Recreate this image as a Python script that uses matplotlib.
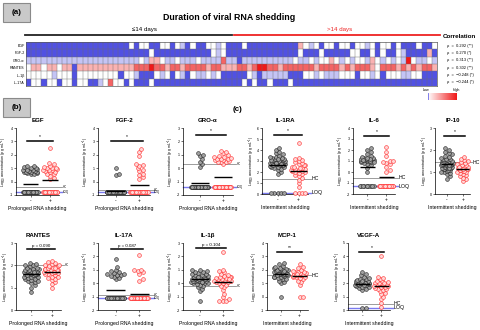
import numpy as np
import matplotlib
matplotlib.use("Agg")
import matplotlib.pyplot as plt
from matplotlib.colors import LinearSegmentedColormap
from matplotlib.lines import Line2D
from matplotlib.patches import Rectangle

plt.rcParams["font.family"] = ["Liberation Sans", "DejaVu Sans"]
plt.rcParams["mathtext.fontset"] = "custom"
plt.rcParams["mathtext.rm"] = "Liberation Sans"
plt.rcParams["mathtext.it"] = "Liberation Sans:italic"

# ---------------- heatmap data (levels: -3 low ... +3 high) ----------------
cytokines = ["EGF", "FGF-2", "GRO-\u03b1", "RANTES", "IL-1\u03b2", "IL-17A"]
correlations = ["\u03c1  =  0.292 (**)", "\u03c1  =  0.270 (*)", "\u03c1  =  0.313 (**)",
                "\u03c1  =  0.302 (**)", "\u03c1  =  \u22120.248 (*)", "\u03c1  =  \u22120.244 (*)"]

egf_row = [-3, -3, -3, -3, -3, -3, -3, -3, -3, -3, -3, -3, -3, -3, -3, -3, -3, -3, -3, -3,
           0, -3, 0, 0, -3, -3, 0, 0, -3, 0, -1, -3, 0, -3, -3, 0, 0, -1, 0, -3,
           -3, -3, 0, -3, -3, -3, -3, -3, -3, -3, -3, -3, -3, 1, 0, -1, 0, -3, 0, 0,
           -3, 0, 0, -3, 0, 0, -1, 0, -3, 0, 0, -3, 0, -3, -3, -3, 0, -3, -3, 0]
fgf2_row = [-3, -3, -3, -3, -3, -3, -3, -3, -3, -3, -3, -3, -3, -3, -3, -3, -3, -3, -3, -3,
            -3, -3, -3, -3, 0, -3, -3, -3, -3, -3, -3, -3, -3, -3, -3, -3, 0, -1, 0, -3,
            -3, -3, -3, -3, -3, -3, -3, -3, -3, -3, -3, -3, -3, 0, -3, -3, -3, 0, -3, -3,
            -3, -3, -3, 0, 0, -3, -3, 0, -3, 0, -3, -3, 0, -1, -3, -3, -3, -3, 1, -3]
groa_row = [-1, -1, -1, -1, -1, -1, -1, -1, -1, -1, -1, -1, -1, -1, -1, -1, -1, -1, -1, -1,
            -1, -1, 0, -1, 1, 1, 0, -1, -1, 0, -1, -1, -1, 0, -1, -1, -1, -1, 2, -1,
            -1, -3, -1, -1, -1, -1, -1, -1, -1, -1, -1, -1, 0, -1, -1, 0, -1, 0, 0, 1,
            0, -1, 0, -1, 0, 0, -1, 1, 0, -1, 0, -1, 0, -1, 3, 0, -1, -1, 0, -1]
rantes_row = [0, 1, 1, 0, 1, 1, 0, 1, 1, -3, 1, 1, 1, 1, 1, 1, 1, 1, 1, 1,
              1, 2, 2, 2, 3, 2, 2, 1, 2, 2, 1, 2, 2, 2, 2, 1, 2, 2, 1, 1,
              1, 2, 2, 1, 2, 3, 3, 2, 2, 1, 2, 2, 2, 2, 2, 2, 1, 2, 2, 2,
              2, 1, 2, 1, 2, 2, 2, 1, 0, 2, 2, 2, 1, 2, 1, 2, 1, 2, 2, 1]
il1b_row = [0, 0, 0, 0, 0, -1, 0, 0, 0, -3, 0, 0, 0, 0, 0, 0, 0, 0, -3, 0,
            0, -1, -3, -3, -3, 0, -1, 0, -3, 0, -1, -3, 0, -1, -1, 0, -1, 0, -3, -3,
            -3, -3, -3, 0, -1, -3, -1, -1, -1, -1, -1, -3, -3, -3, 0, 0, -1, 0, -1, -1,
            -1, 0, 0, 0, -3, 0, 0, -1, 0, -3, 0, 0, 0, -1, -1, 0, 0, -3, -3, -3]
il17a_row = [-3, 0, 0, -3, 0, 0, -3, 0, 0, -3, 0, 0, -3, -3, -1, 0, 2, 0, 0, -3,
             0, -3, -3, -3, 0, -3, -3, -3, -3, -3, -3, -3, -3, -3, -3, -3, -3, -3, -3, -3,
             -3, -3, 0, -3, 0, -3, -3, 0, -3, -3, -3, 0, -3, -3, -3, -3, -3, -3, -3, -3,
             -3, -3, -3, -3, -3, -3, -3, -3, -3, -3, -3, -3, -3, -3, -3, -3, -3, -3, -3, -3]

# ---------------- scatter data ----------------
LOQ_EGF, LOQ_FGF, LOQ_GRO, LOQ_17A = -0.75, -0.8, -1.4, -1.1
egf_neg = [LOQ_EGF]*34 + [0.55, 0.6, 0.62, 0.65, 0.7, 0.7, 0.72, 0.75, 0.78, 0.8, 0.85, 0.88, 0.9,
                          0.95, 1.0, 1.05, 1.1, 1.15, 1.2]
egf_pos = [LOQ_EGF]*18 + [0.2, 0.3, 0.45, 0.55, 0.6, 0.7, 0.75, 0.8, 0.85, 0.9, 0.9, 0.95, 1.0, 1.0,
                          1.05, 1.1, 1.2, 1.3, 1.4, 2.5]
fgf2_neg = [LOQ_FGF]*48 + [0.5, 0.6, 1.05]
fgf2_pos = [LOQ_FGF]*34 + [0.2, 0.35, 0.5, 0.6, 0.8, 0.9, 1.0, 1.2, 1.25, 1.35, 1.9, 2.2, 2.4]
groa_neg = [LOQ_GRO]*40 + [0.1, 0.3, 0.5, 0.7, 0.9, 1.0, 1.1]
groa_pos = [LOQ_GRO]*35 + [0.3, 0.45, 0.5, 0.5, 0.55, 0.6, 0.6, 0.65, 0.7, 0.7, 0.75, 0.8, 0.85,
                           0.9, 1.0, 1.1, 1.2, 1.3]
rantes_neg = [0.8, 1.0, 1.1, 1.2, 1.25, 1.3, 1.35, 1.4, 1.4, 1.45, 1.5, 1.5, 1.5, 1.55, 1.55, 1.6,
              1.6, 1.6, 1.6, 1.65, 1.65, 1.65, 1.7, 1.7, 1.7, 1.7, 1.75, 1.75, 1.75, 1.8, 1.8,
              1.8, 1.85, 1.85, 1.9, 1.9, 1.95, 2.0, 2.0, 2.05, 2.1, 1.3, 1.55, 1.7]
rantes_pos = [1.0, 1.15, 1.25, 1.35, 1.4, 1.45, 1.5, 1.55, 1.6, 1.6, 1.65, 1.65, 1.7, 1.7, 1.75,
              1.75, 1.8, 1.8, 1.8, 1.85, 1.85, 1.9, 1.9, 1.95, 1.95, 2.0, 2.0, 2.05, 2.1, 2.15,
              2.2, 1.5, 1.7, 1.9]
il17a_neg = [LOQ_17A]*30 + [0.3, 0.4, 0.5, 0.55, 0.6, 0.6, 0.65, 0.7, 0.75, 0.8, 0.9, 1.0, 1.2, 1.8]
il17a_pos = [LOQ_17A]*40 + [0.2, 0.3, 0.7, 0.8, 0.9, 0.95, 1.0, 2.1]
il1b_neg = [-1.3, -0.6, -0.4, -0.3, -0.2, -0.1, -0.05, 0.0, 0.0, 0.05, 0.1, 0.1, 0.15, 0.15, 0.2,
            0.2, 0.2, 0.25, 0.25, 0.3, 0.3, 0.3, 0.35, 0.35, 0.4, 0.4, 0.45, 0.45, 0.5, 0.5, 0.55,
            0.6, 0.6, 0.65, 0.7, 0.75, 0.8, 0.85, 0.9, 0.95, 1.0, 0.1, 0.3, 0.5]
il1b_pos = [-1.3, -1.3, -1.3, -1.2, -1.0, -0.8, -0.5, -0.3, -0.2, -0.1, 0.0, 0.0, 0.1, 0.1, 0.15,
            0.2, 0.2, 0.25, 0.3, 0.3, 0.35, 0.4, 0.4, 0.45, 0.5, 0.5, 0.55, 0.6, 0.7, 0.8, 0.9,
            1.0, 2.3, 0.2, 0.3]
LOQ_1RA, LOQ_IL6, LOQ_VEGF = 0.1, -1.3, 0.17
il1ra_neg = [LOQ_1RA]*5 + [1.8, 2.0, 2.2, 2.3, 2.4, 2.45, 2.5, 2.5, 2.55, 2.6, 2.6, 2.65, 2.7, 2.7,
                           2.75, 2.75, 2.8, 2.8, 2.8, 2.85, 2.85, 2.9, 2.9, 2.95, 2.95, 3.0, 3.0,
                           3.05, 3.1, 3.1, 3.15, 3.2, 3.2, 3.3, 3.3, 3.4, 3.5, 3.6, 3.7, 3.8, 4.0,
                           4.2, 2.6, 2.9, 3.0, 3.1, 2.8, 2.7, 3.2, 3.4]
il1ra_pos = [LOQ_1RA]*4 + [0.6, 1.0, 1.3, 1.5, 1.6, 1.7, 1.8, 1.9, 2.0, 2.0, 2.1, 2.1, 2.2, 2.2,
                           2.3, 2.3, 2.4, 2.4, 2.5, 2.5, 2.6, 2.6, 2.7, 2.8, 2.9, 3.0, 3.1, 3.2,
                           3.3, 4.6]
il6_neg = [LOQ_IL6]*10 + [0.0, 0.4, 0.6, 0.7, 0.8, 0.9, 0.95, 1.0, 1.0, 1.05, 1.1, 1.1, 1.15, 1.2,
                          1.2, 1.25, 1.3, 1.4, 1.5, 1.6, 1.8, 2.0, 2.2, 0.9, 1.0, 1.1, 1.2, 1.3]
il6_pos = [LOQ_IL6]*20 + [0.0, 0.2, 0.5, 0.7, 0.8, 0.9, 1.0, 1.0, 1.5, 1.8, 2.3]
ip10_neg = [0.7, 0.8, 0.9, 0.95, 1.0, 1.0, 1.05, 1.1, 1.1, 1.15, 1.15, 1.2, 1.2, 1.2, 1.25, 1.25,
            1.25, 1.3, 1.3, 1.3, 1.3, 1.35, 1.35, 1.35, 1.4, 1.4, 1.4, 1.4, 1.45, 1.45, 1.45, 1.5,
            1.5, 1.5, 1.55, 1.55, 1.6, 1.6, 1.65, 1.7, 1.75, 1.8, 1.85, 1.9, 2.0, 2.1, 1.2, 1.3,
            1.4, 1.35]
ip10_pos = [0.6, 0.7, 0.75, 0.8, 0.85, 0.9, 0.95, 1.0, 1.0, 1.05, 1.05, 1.1, 1.1, 1.15, 1.15, 1.2,
            1.2, 1.2, 1.25, 1.25, 1.3, 1.3, 1.35, 1.4, 1.45, 1.5, 1.55, 1.6, 1.7, 1.15, 1.25]
mcp1_neg = [0.0, 1.0, 1.1, 1.2, 1.3, 1.35, 1.4, 1.45, 1.5, 1.5, 1.55, 1.6, 1.6, 1.65, 1.65, 1.7,
            1.7, 1.7, 1.75, 1.75, 1.8, 1.8, 1.8, 1.85, 1.85, 1.9, 1.9, 1.95, 1.95, 2.0, 2.0, 2.05,
            2.1, 2.15, 2.2, 2.3, 2.4, 2.5, 1.7, 1.8, 1.9, 1.6]
mcp1_pos = [0.0, 0.0, 0.9, 1.1, 1.2, 1.3, 1.4, 1.45, 1.5, 1.5, 1.55, 1.6, 1.6, 1.65, 1.65, 1.7,
            1.7, 1.75, 1.75, 1.8, 1.8, 1.85, 1.9, 2.0, 2.1, 2.2, 2.4, 1.6, 1.7]
vegf_neg = [LOQ_VEGF]*2 + [1.5, 1.6, 1.65, 1.7, 1.75, 1.8, 1.85, 1.9, 1.9, 1.95, 1.95, 2.0, 2.0, 2.0,
                           2.05, 2.05, 2.1, 2.1, 2.1, 2.15, 2.15, 2.2, 2.2, 2.25, 2.3, 2.35, 2.4,
                           2.5, 2.6, 2.7, 2.8, 2.0, 2.1, 1.9, 2.2]
vegf_pos = [0.2, 0.5, 0.8, 1.0, 1.2, 1.3, 1.4, 1.5, 1.55, 1.6, 1.65, 1.7, 1.75, 1.8, 1.85, 1.9,
            1.9, 1.95, 2.0, 2.0, 2.05, 2.1, 2.15, 2.2, 2.3, 2.4, 2.5, 4.0, 1.8, 2.0]

W, H = 480, 330
fig = plt.figure(figsize=(W / 100, H / 100), dpi=100)
fig.patch.set_facecolor("white")


def box(x0, y0, x1, y1):
    return [x0 / W, 1 - y1 / H, (x1 - x0) / W, (y1 - y0) / H]


def ftext(x, y, s, **kw):
    fig.text(x / W, 1 - y / H, s, **kw)


def fline(x0, x1, y, **kw):
    fig.add_artist(Line2D([x0 / W, x1 / W], [1 - y / H] * 2, transform=fig.transFigure, **kw))


def label_box(x0, y0, x1, y1, s):
    fig.add_artist(Rectangle((x0 / W, 1 - y1 / H), (x1 - x0) / W, (y1 - y0) / H,
                             transform=fig.transFigure, facecolor="#c9c9c9",
                             edgecolor="#8a8a8a", lw=0.8))
    ftext((x0 + x1) / 2, (y0 + y1) / 2, s, ha="center", va="center", fontsize=5.8,
          fontweight="bold")


# ---------------- panel (a) ----------------
label_box(3, 3, 30, 22, "(a)")
ftext(229, 18, "Duration of viral RNA shedding", ha="center", va="center", fontsize=6.4,
      fontweight="bold")
ftext(145, 29, "\u226414 days", ha="center", va="center", fontsize=4.4)
ftext(340, 29, ">14 days", ha="center", va="center", fontsize=4.4, color="#ee2222")
fline(25, 232, 35, color="#222222", lw=1.3)
fline(234, 440, 35, color="#ee2222", lw=1.3)
ftext(443, 36, "Correlation", ha="left", va="center", fontsize=4.5, fontweight="bold")

heat = np.array([egf_row, fgf2_row, groa_row, rantes_row, il1b_row, il17a_row], dtype=float)
n_rows, n_cols = heat.shape
cmap = LinearSegmentedColormap.from_list("lowhigh", ["#5151e2", "#ffffff", "#f01818"])
axh = fig.add_axes(box(26, 42, 437, 86))
axh.imshow(heat, cmap=cmap, vmin=-3, vmax=3, aspect="auto", interpolation="nearest",
           extent=(0, n_cols, n_rows, 0))
for c in range(1, n_cols):
    axh.axvline(c, color="#6a6a6a", lw=0.3)
for r in range(1, n_rows):
    axh.axhline(r, color="#6a6a6a", lw=0.3)
axh.set_xlim(0, n_cols)
axh.set_ylim(n_rows, 0)
axh.set_xticks([])
axh.set_yticks(np.arange(n_rows) + 0.5)
axh.set_yticklabels(cytokines, fontsize=2.6)
axh.tick_params(axis="y", length=0, pad=1)
for s in axh.spines.values():
    s.set_linewidth(0.5)
    s.set_color("#5a5a5a")
for i, txt in enumerate(correlations):
    ftext(447, 42 + (i + 0.5) * 44 / 6, txt, ha="left", va="center", fontsize=2.9)

# colour key
axc = fig.add_axes(box(428, 93, 456, 100))
axc.imshow(np.linspace(0, 3, 64)[None, :], aspect="auto", cmap=cmap, vmin=-3, vmax=3)
axc.axvline(0, color="#6a6ae8", lw=0.6)
axc.set_xticks([])
axc.set_yticks([])
for s in axc.spines.values():
    s.set_visible(False)
ftext(426, 90.5, "Low", ha="center", va="center", fontsize=2.6)
ftext(456, 90, "High", ha="center", va="center", fontsize=2.6)

# ---------------- scatter panels ----------------
label_box(3, 98, 30, 117, "(b)")
ftext(233, 110, "(c)", ha="left", va="center", fontsize=5.8, fontweight="bold")

YLAB = r"Log$_{10}$ concentration (pg mL$^{-1}$)"


def swarm_x(vals, center, px_w, px_h, xlim, ylim, d=3.3, maxw=0.38):
    vals = np.asarray(vals, dtype=float)
    sx = px_w / (xlim[1] - xlim[0])
    sy = px_h / (ylim[1] - ylim[0])
    lim = maxw * sx
    order = np.argsort(vals, kind="stable")
    placed = []
    xs = np.zeros(len(vals))
    overflow = 0
    for i in order:
        y = vals[i] * sy
        chosen = None
        for k in range(60):
            off = ((k + 1) // 2) * (d / 2) * (1 if k % 2 else -1)
            if abs(off) > lim:
                break
            if all((off - px) ** 2 + (y - py) ** 2 >= d * d * 0.8 for px, py in placed):
                chosen = off
                break
        if chosen is None:
            chosen = ((overflow * 0.618) % 1.0 * 2 - 1) * lim
            overflow += 1
        placed.append((chosen, y))
        xs[i] = center + chosen / sx
    return xs


def scatter_panel(rect, title, neg, pos, ylim, yticks, hc, loq, by, btxt, xlabel,
                  big_ref=False):
    x0, y0, x1, y1 = rect
    ax = fig.add_axes(box(x0, y0, x1, y1))
    xlim = (0.25, 2.45)
    ax.set_xlim(*xlim)
    ax.set_ylim(*ylim)
    pw, ph = x1 - x0, y1 - y0
    for vals, c, ec, fc in ((neg, 1, "#222222", "#a0a0a0"), (pos, 2, "#ff2a2a", "#ffd6d6")):
        xs = swarm_x(vals, c, pw, ph, xlim, ylim)
        ax.scatter(xs, vals, s=7.5, facecolors=fc, edgecolors=ec, linewidths=0.4, zorder=3,
                   clip_on=False)
        ax.hlines(np.mean(vals), c - 0.4, c + 0.4, color="black", lw=1.0, zorder=4)
    ref_fs = 3.8 if big_ref else 2.1
    if hc is not None:
        ax.plot([xlim[0], xlim[1] + 0.15], [hc, hc], color="#8c8c8c", lw=0.6, zorder=2,
                clip_on=False)
        ax.text(xlim[1] + 0.17, hc, "HC", fontsize=ref_fs, va="center", ha="left")
    if loq is not None:
        ax.plot([xlim[0], xlim[1] + 0.15], [loq, loq], color="#7a7af0", lw=1.0, zorder=2,
                clip_on=False)
        ax.text(xlim[1] + 0.17, loq, "LOQ", fontsize=ref_fs, va="center", ha="left")
    ax.plot([0.8, 2.15], [by, by], color="black", lw=1.1, zorder=4)
    ax.text(1.48, by + (ylim[1] - ylim[0]) * 0.02, btxt, ha="center", va="bottom",
            fontsize=3.2 if btxt.startswith("p") else 3.6)
    ax.set_xticks([1, 2])
    ax.set_xticklabels(["-", "+"], fontsize=3.4)
    ax.set_yticks(yticks)
    ax.set_yticklabels([str(t) for t in yticks], fontsize=2.6)
    ax.tick_params(length=1.3, width=0.4, pad=0.8)
    for side in ("top", "right"):
        ax.spines[side].set_visible(False)
    for side in ("left", "bottom"):
        ax.spines[side].set_linewidth(0.5)
    ax.set_title(title, fontsize=4.4, fontweight="bold", pad=4)
    ax.set_ylabel(YLAB, fontsize=2.6, labelpad=0.3)
    ax.set_xlabel(xlabel, fontsize=3.7, labelpad=2.5)
    return ax


PRS = "Prolonged RNA shedding"
INT = "Intermittent shedding"
scatter_panel((16, 128, 59, 195), "EGF", egf_neg, egf_pos, (-1, 4), [-1, 0, 1, 2, 3, 4],
              -0.4, LOQ_EGF, 3.05, "*", PRS)
scatter_panel((98, 128, 150, 195), "FGF-2", fgf2_neg, fgf2_pos, (-1, 4), [-1, 0, 1, 2, 3, 4],
              -0.6, LOQ_FGF, 3.05, "*", PRS)
scatter_panel((183, 128, 233, 195), "GRO-\u03b1", groa_neg, groa_pos, (-2, 3),
              [-2, -1, 0, 1, 2, 3], 0.3, LOQ_GRO, 2.5, "*", PRS)
scatter_panel((16, 243, 61, 310), "RANTES", rantes_neg, rantes_pos, (0, 3), [0, 1, 2, 3],
              2.0, None, 2.72, "p = 0.090", PRS)
scatter_panel((98, 243, 150, 310), "IL-17A", il17a_neg, il17a_pos, (-2, 3),
              [-2, -1, 0, 1, 2, 3], -0.9, LOQ_17A, 2.55, "p = 0.087", PRS)
scatter_panel((183, 243, 233, 310), "IL-1\u03b2", il1b_neg, il1b_pos, (-2, 3),
              [-2, -1, 0, 1, 2, 3], -0.2, None, 2.6, "p = 0.104", PRS)
scatter_panel((262, 128, 308, 194), "IL-1RA", il1ra_neg, il1ra_pos, (0, 6),
              [0, 1, 2, 3, 4, 5, 6], 1.4, LOQ_1RA, 5.4, "*", INT, big_ref=True)
scatter_panel((353, 128, 395, 194), "IL-6", il6_neg, il6_pos, (-2, 4),
              [-2, -1, 0, 1, 2, 3, 4], -0.5, LOQ_IL6, 3.3, "*", INT, big_ref=True)
scatter_panel((435, 128, 470, 194), "IP-10", ip10_neg, ip10_pos, (0, 3), [0, 1, 2, 3],
              1.45, None, 2.65, "*", INT, big_ref=True)
scatter_panel((267, 243, 308, 310), "MCP-1", mcp1_neg, mcp1_pos, (-1, 4),
              [-1, 0, 1, 2, 3, 4], 1.6, None, 3.35, "**", INT, big_ref=True)
scatter_panel((348, 243, 390, 310), "VEGF-A", vegf_neg, vegf_pos, (0, 5),
              [0, 1, 2, 3, 4, 5], 0.45, LOQ_VEGF, 4.35, "*", INT, big_ref=True)

fig.savefig("out.png", dpi=100, facecolor="white")
